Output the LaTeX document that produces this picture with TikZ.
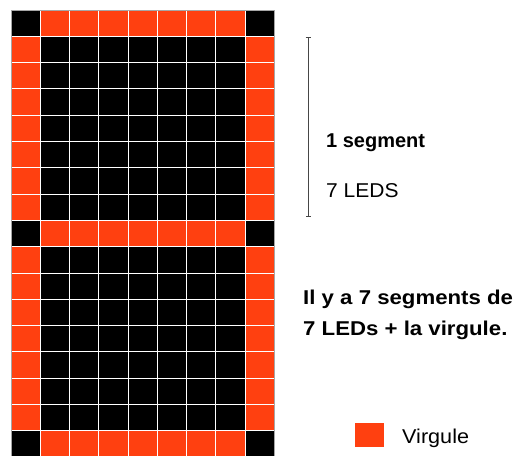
\documentclass[tikz,border=0pt]{standalone}
\usepackage{fontspec}
\setmainfont{Liberation Sans}
\usetikzlibrary{arrows.meta}
\definecolor{ledorange}{RGB}{255,64,16}
\definecolor{linegrey}{RGB}{70,70,70}
\tikzset{
  orangecell/.style={fill=ledorange},
  blackcell/.style={fill=black},
  gridline/.style={draw=white, line width=0.9pt},
  label/.style={anchor=west, inner sep=0pt, font=\fontsize{20}{24}\selectfont},
  boldlabel/.style={label, font=\fontsize{20}{24}\selectfont\bfseries},
  brace/.style={draw=linegrey, line width=0.9pt, {Bar[width=5pt]}-{Bar[width=5pt]}}
}
\begin{document}
\begin{tikzpicture}[x=1pt,y=-1pt]
\path[use as bounding box] (0,0) rectangle (518,455);
\begin{scope}
\clip (0,0) rectangle (518,455);
% cells
\foreach \j in {0,...,16}{
  \foreach \i in {0,...,8}{
    \pgfmathsetmacro{\xa}{11+29.25*\i}
    \pgfmathsetmacro{\ya}{10+26.3*\j}
    \pgfmathtruncatemacro{\hrow}{(\j==0)||(\j==8)||(\j==16)}
    \pgfmathtruncatemacro{\edge}{(\i==0)||(\i==8)}
    \pgfmathtruncatemacro{\isor}{(\hrow==1 && \edge==0) || (\hrow==0 && \edge==1)}
    \ifnum\isor=1
      \fill[orangecell] (\xa,\ya) rectangle ++(29.25,26.3);
    \else
      \fill[blackcell] (\xa,\ya) rectangle ++(29.25,26.3);
    \fi
  }
}
% grid lines
\foreach \i in {1,...,8}{
  \draw[gridline] (11+29.25*\i,10) -- (11+29.25*\i,457.1);
}
\foreach \j in {1,...,16}{
  \draw[gridline] (11,10+26.3*\j) -- (274.25,10+26.3*\j);
}
\draw[draw=gray!70, line width=0.6pt] (11,10) rectangle (274.25,457.1);
\end{scope}
% segment bracket
\coordinate (bt) at (308,37);
\coordinate (bb) at (308,217);
\draw[brace] (bt) -- (bb);
\node[boldlabel] (seg) at (326,143) {1 segment};
\node[label, xscale=1.05] (leds) at (326,191) {7 LEDS};
\node[boldlabel, xscale=1.11] (l1) at (303,299) {Il y a 7 segments de};
\node[boldlabel, xscale=1.11] (l2) at (303,330) {7 LEDs + la virgule.};
% legend
\node[fill=ledorange, minimum width=29pt, minimum height=24pt, inner sep=0pt, anchor=north west] (legsq) at (355,423) {};
\node[label, xscale=1.08] (legtxt) at (402,438) {Virgule};
\end{tikzpicture}
\end{document}
